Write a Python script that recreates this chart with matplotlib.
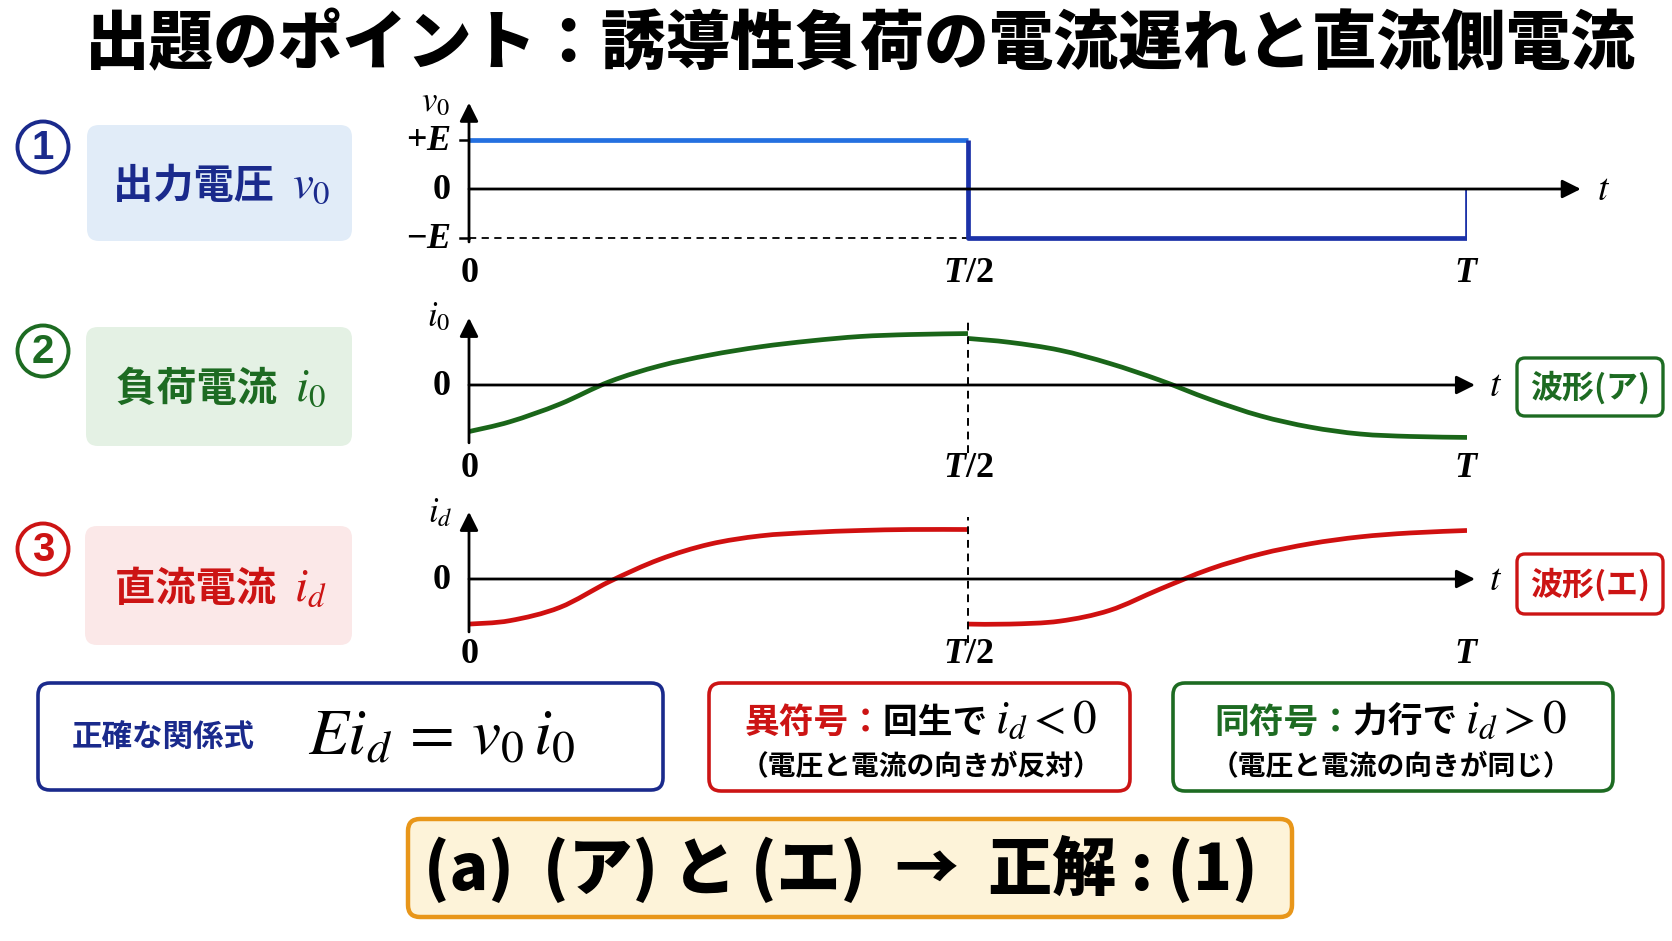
"""Figure: inverter output voltage, load current and DC-side current (1 period)."""
import matplotlib
matplotlib.use('Agg')
import matplotlib.pyplot as plt
from matplotlib.patches import FancyBboxPatch, Circle, PathPatch
from matplotlib.path import Path

plt.rcParams['font.family'] = ['Noto Sans CJK JP', 'DejaVu Sans']
plt.rcParams['mathtext.fontset'] = 'custom'
plt.rcParams['mathtext.rm'] = 'Liberation Serif:bold'
plt.rcParams['mathtext.it'] = 'Liberation Serif:italic:bold'
plt.rcParams['mathtext.bf'] = 'Liberation Serif:bold'

# ── data: t in units of T, values normalised (E = 1) ────────────────────
v0_t = [0.0, 0.5, 0.5, 1.0, 1.0]
v0_v = [1.0, 1.0, -1.0, -1.0, 0.0]

i0_t1 = [0.0, 0.041, 0.091, 0.141, 0.191, 0.241, 0.292, 0.342, 0.392, 0.442, 0.5]
i0_v1 = [-0.95, -0.75, -0.39, 0.07, 0.39, 0.61, 0.78, 0.90, 0.99, 1.03, 1.05]
i0_t2 = [0.5, 0.542, 0.592, 0.642, 0.692, 0.742, 0.793, 0.843, 0.893, 0.943, 1.0]
i0_v2 = [0.95, 0.87, 0.71, 0.44, 0.10, -0.29, -0.63, -0.86, -1.00, -1.05, -1.07]

id_t1 = [0.0, 0.041, 0.091, 0.141, 0.191, 0.241, 0.292, 0.342, 0.392, 0.442, 0.5]
id_v1 = [-0.92, -0.85, -0.58, -0.05, 0.40, 0.71, 0.88, 0.95, 0.99, 1.01, 1.01]
id_t2 = [0.5, 0.542, 0.592, 0.642, 0.692, 0.742, 0.793, 0.843, 0.893, 0.943, 1.0]
id_v2 = [-0.92, -0.92, -0.86, -0.64, -0.21, 0.20, 0.51, 0.72, 0.86, 0.94, 0.99]

tick_pos = [0.0, 0.5, 1.0]
tick_lab = ['$0$', '$T/2$', '$T$']

title = '出題のポイント：誘導性負荷の電流遅れと直流側電流'
row_names = ['出力電圧', '負荷電流', '直流電流']
axis_names = ['$v_0$', '$i_0$', '$i_d$']

NAVY, GREEN, RED = '#1a2a8c', '#1d6b22', '#cc1414'
ORANGE = '#e8961a'

W, H = 1672, 941
PX = 49             # pixels per unit
X0, X1 = 469, 1467  # t = 0 .. T

fig = plt.figure(figsize=(W / 100, H / 100), dpi=100)
bg = fig.add_axes([0, 0, 1, 1])
bg.set_xlim(0, W); bg.set_ylim(H, 0); bg.axis('off')


def rbox(x, y, w, h, fc, ec='none', lw=0, r=12):
    bg.add_patch(FancyBboxPatch((x, y), w, h, boxstyle=f'round,pad=0,rounding_size={r}',
                                fc=fc, ec=ec, lw=lw))


def seq_text(xc, y, parts, **kw):
    """Draw text pieces side by side, centred on xc, common baseline y."""
    r = fig.canvas.get_renderer()
    objs = [bg.text(0, y, s, ha='left', va='baseline', **{**kw, **st}) for s, st in parts]
    ws = [o.get_window_extent(r).width for o in objs]
    cur = xc - sum(ws) / 2
    for o, w in zip(objs, ws):
        o.set_x(cur)
        cur += w


def smooth_curve(ax, ts, vs, color):
    # Catmull-Rom through the read points, drawn as cubic Bezier segments
    pts = list(zip(ts, vs))
    verts, codes = [pts[0]], [Path.MOVETO]
    for i in range(len(pts) - 1):
        p0 = pts[max(i - 1, 0)]
        p1, p2 = pts[i], pts[i + 1]
        p3 = pts[min(i + 2, len(pts) - 1)]
        c1 = (p1[0] + (p2[0] - p0[0]) / 6, p1[1] + (p2[1] - p0[1]) / 6)
        c2 = (p2[0] - (p3[0] - p1[0]) / 6, p2[1] - (p3[1] - p1[1]) / 6)
        verts += [c1, c2, p2]
        codes += [Path.CURVE4] * 3
    ax.add_patch(PathPatch(Path(verts, codes), fill=False, ec=color, lw=3.4, capstyle='butt'))


def panel(zero_px):
    lo, hi = -1.6, 1.9
    ax = fig.add_axes([X0 / W, 1 - (zero_px - lo * PX) / H, (X1 - X0) / W, (hi - lo) * PX / H])
    ax.set_xlim(0, 1); ax.set_ylim(lo, hi); ax.axis('off')
    ax.patch.set_alpha(0)
    return ax


def arrows(ax, x_end, y_top, y_bot):
    ap = dict(arrowstyle='-|>', color='k', lw=2, mutation_scale=28, shrinkA=0, shrinkB=0)
    ax.annotate('', xy=(x_end, 0), xytext=(0, 0), arrowprops=ap, annotation_clip=False)
    ax.annotate('', xy=(0, y_top), xytext=(0, y_bot), arrowprops=ap, annotation_clip=False)


# ── title ────────────────────────────────────────────────────────────────
bg.text(860, 45, title, ha='center', va='center', fontsize=46.5, weight='black')

# ── left labels ──────────────────────────────────────────────────────────
rows = [(147, (87, 125, 265, 116), '#e1ecf8', NAVY, 198),
        (351, (86, 327, 266, 119), '#e4f1e4', GREEN, 401),
        (549, (85, 526, 267, 119), '#fbe8e8', RED, 601)]
for k, (cy, (bx, by, bw, bh), fc, col, ty) in enumerate(rows):
    bg.add_patch(Circle((43, cy), 25.5, fill=False, ec=col, lw=2.8))
    bg.text(43, cy + 1, str(k + 1), ha='center', va='center', fontsize=29, weight='bold',
            color=col, family='Liberation Sans')
    rbox(bx, by, bw, bh, fc)
    seq_text(bx + bw / 2 + 2, ty, [(row_names[k] + '  ', dict(fontsize=29, weight='bold')),
                                   (axis_names[k], dict(fontsize=34, math_fontfamily='stix'))],
             color=col)

# ── panel 1: output voltage ─────────────────────────────────────────────
ax1 = panel(189)
arrows(ax1, 1.114, 1.76, -1.08)
ax1.plot([-0.009, 0], [1, 1], color='k', lw=1.8, clip_on=False)
ax1.plot([-0.009, 0], [-1, -1], color='k', lw=1.8, clip_on=False)
ax1.plot([0, 0.5], [-1, -1], color='k', lw=1.3, ls=(0, (4, 3)))
ax1.plot(v0_t[:2], v0_v[:2], color='#2470e0', lw=3.4, solid_capstyle='butt')
ax1.plot(v0_t[1:], v0_v[1:], color='#1c32a8', lw=3.4, solid_capstyle='butt')
for y, s in [(1, '$+E$'), (0, '$0$'), (-1, '$-E$')]:
    ax1.text(-0.018, y, s, ha='right', va='center', fontsize=26, math_fontfamily='custom')
ax1.text(-0.019, 1.78, axis_names[0], ha='right', va='center', fontsize=25, math_fontfamily='stix')
ax1.text(1.130, 0, '$t$', ha='left', va='center', fontsize=27, math_fontfamily='stix')
for p, s in zip(tick_pos, tick_lab):
    ax1.text(p, -1.69, s, ha='center', va='center', fontsize=26, math_fontfamily='custom')

# ── panel 2: load current ────────────────────────────────────────────────
ax2 = panel(385)
arrows(ax2, 1.008, 1.37, -1.18)
ax2.plot([0.5, 0.5], [-1.39, 1.33], color='k', lw=1.4, ls=(0, (4, 3)))
smooth_curve(ax2, i0_t1, i0_v1, '#1a6619')
smooth_curve(ax2, i0_t2, i0_v2, '#1a6619')
ax2.text(-0.018, 0, '$0$', ha='right', va='center', fontsize=26, math_fontfamily='custom')
ax2.text(-0.019, 1.40, axis_names[1], ha='right', va='center', fontsize=25, math_fontfamily='stix')
ax2.text(1.022, 0, '$t$', ha='left', va='center', fontsize=27, math_fontfamily='stix')
for p, s in zip(tick_pos, tick_lab):
    ax2.text(p, -1.67, s, ha='center', va='center', fontsize=26, math_fontfamily='custom')

# ── panel 3: DC-side current ─────────────────────────────────────────────
ax3 = panel(579)
arrows(ax3, 1.008, 1.37, -1.08)
ax3.plot([0.5, 0.5], [-1.31, 1.27], color='k', lw=1.4, ls=(0, (4, 3)))
smooth_curve(ax3, id_t1, id_v1, '#d01010')
smooth_curve(ax3, id_t2, id_v2, '#d01010')
ax3.text(-0.018, 0, '$0$', ha='right', va='center', fontsize=26, math_fontfamily='custom')
ax3.text(-0.017, 1.35, axis_names[2], ha='right', va='center', fontsize=25, math_fontfamily='stix')
ax3.text(1.022, 0, '$t$', ha='left', va='center', fontsize=27, math_fontfamily='stix')
for p, s in zip(tick_pos, tick_lab):
    ax3.text(p, -1.51, s, ha='center', va='center', fontsize=26, math_fontfamily='custom')

# waveform tags
rbox(1517, 358, 146, 58, 'white', GREEN, 2.4, 8)
bg.text(1590, 388, '波形(ア)', ha='center', va='center', fontsize=23, weight='bold', color=GREEN)
rbox(1517, 554, 146, 60, 'white', RED, 2.4, 8)
bg.text(1590, 585, '波形(エ)', ha='center', va='center', fontsize=23, weight='bold', color=RED)

# ── bottom boxes ─────────────────────────────────────────────────────────
rbox(38, 683, 625, 107, 'white', NAVY, 2.6, 12)
bg.text(163, 737, '正確な関係式', ha='center', va='center', fontsize=22, weight='bold', color=NAVY)
bg.text(442, 737, '$Ei_d\\,=\\,v_0\\,i_0$', ha='center', va='center', fontsize=47,
        math_fontfamily='stix')

rbox(709, 683, 421, 108, 'white', RED, 2.6, 12)
seq_text(921, 733, [('異符号：', dict(color=RED, fontsize=25, weight='bold')),
                    ('回生で ', dict(color='k', fontsize=25, weight='bold')),
                    ('$i_d<0$', dict(color='k', fontsize=34, math_fontfamily='stix'))])
bg.text(921, 767, '（電圧と電流の向きが反対）', ha='center', va='center', fontsize=20, weight='bold')

rbox(1173, 683, 440, 108, 'white', GREEN, 2.6, 12)
seq_text(1391, 733, [('同符号：', dict(color=GREEN, fontsize=25, weight='bold')),
                     ('力行で ', dict(color='k', fontsize=25, weight='bold')),
                     ('$i_d>0$', dict(color='k', fontsize=34, math_fontfamily='stix'))])
bg.text(1391, 767, '（電圧と電流の向きが同じ）', ha='center', va='center', fontsize=20, weight='bold')

rbox(408, 819, 884, 98, '#fdf3d9', ORANGE, 3.2, 12)
bg.text(841, 869, '(a)  (ア) と (エ)  →  正解 : (1)', ha='center', va='center', fontsize=46,
        weight='black')

fig.savefig('out.png', dpi=100)
